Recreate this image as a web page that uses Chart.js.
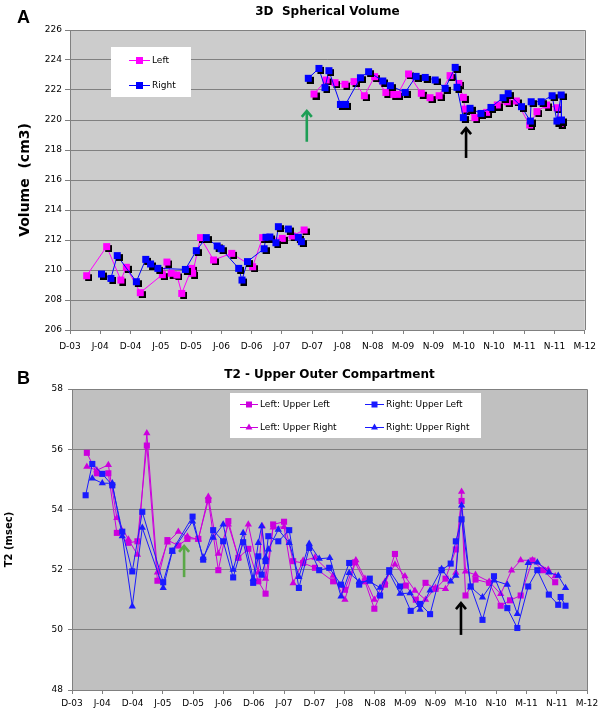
<!DOCTYPE html>
<html><head><meta charset="utf-8">
<script src="https://cdn.jsdelivr.net/npm/chart.js@4.4.0/dist/chart.umd.min.js"></script>
<style>
html,body{margin:0;padding:0;background:#fff;}
#wrap{position:relative;width:603px;height:711px;overflow:hidden;background:#fff;}
canvas{position:absolute;left:0;}
</style></head><body>
<div id="wrap">
<canvas id="cA" width="603" height="355" style="top:0px"></canvas>
<canvas id="cB" width="603" height="356" style="top:355px"></canvas>
</div>
<script>
// ---------- shared x-axis tick labels (one unit = one tick interval) ----------
const tickLabels = ['D-03','J-04','D-04','J-05','D-05','J-06','D-06','J-07','D-07','J-08','N-08','M-09','N-09','M-10','N-10','M-11','N-11','M-12'];

// ---------- Chart A: 3D Spherical Volume (cm3) ----------
const volYTicks = {min: 206, max: 226, step: 2};
const leftX_A = [0.55,1.21,1.68,1.86,2.32,3.05,3.20,3.34,3.53,3.69,4.02,4.05,4.31,4.74,5.34,6.03,6.36,7.01,7.34,7.73,7.90,
  8.06,8.46,8.75,9.08,9.38,9.72,10.06,10.43,10.69,10.82,11.18,11.60,11.89,12.19,12.55,12.84,12.99,13.04,13.37,13.76,14.11,14.44,14.74,15.18,15.42,15.74,16.08,16.19];
const leftY_A = [209.62,211.56,209.33,210.18,208.49,209.69,210.53,209.78,209.67,208.44,210.11,209.78,212.16,210.67,211.11,210.22,212.16,212.11,212.27,212.67,null,
  221.73,222.67,222.49,222.38,222.56,221.62,222.89,221.84,221.71,221.71,223.07,221.78,221.49,221.62,222.96,222.44,221.51,220.73,220.16,220.51,221.0,221.22,221.27,219.67,220.56,221.0,220.82,219.78];
const rightX_A = [1.04,1.35,1.56,2.19,2.50,2.66,2.90,3.81,4.17,4.50,4.86,4.99,5.57,5.68,5.86,6.41,6.47,6.60,6.80,6.88,7.21,7.54,7.64,7.75,
  7.87,8.22,8.42,8.55,8.93,9.10,9.59,9.86,10.33,10.58,11.07,11.43,11.73,12.06,12.39,12.72,12.78,12.99,13.21,13.57,13.90,14.30,14.47,14.91,15.20,15.23,15.56,15.92,16.08,16.22,16.23];
const rightY_A = [209.73,209.44,210.96,209.22,210.71,210.4,210.11,210.04,211.29,212.16,211.6,211.42,210.11,209.33,210.56,211.42,212.18,212.2,211.82,212.89,212.73,212.18,211.89,null,
  222.78,223.44,222.16,223.29,221.04,221.04,222.82,223.22,222.6,222.29,221.84,222.91,222.84,222.67,222.11,223.51,222.18,220.16,220.78,220.44,220.84,221.49,221.76,220.89,219.93,221.22,221.22,221.62,219.93,221.67,220.0];
// arrows: [x, yFrom, yTo]
const arrowsA = [[7.82, 218.55, 220.67, '#1d9e55'], [13.08, 217.47, 219.53, '#000000']];

// ---------- Chart B: T2 - Upper Outer Compartment (msec) ----------
const t2YTicks = {min: 48, max: 58, step: 2};
const lulX = [0.49,0.82,1.20,1.48,1.86,2.16,2.47,2.82,3.15,3.51,3.81,4.17,4.50,4.83,5.16,5.49,5.82,6.15,6.39,6.64,7.00,7.30,7.63,8.02,8.62,9.01,9.34,9.67,9.98,10.33,10.66,11.02,11.35,11.67,12.00,12.33,12.67,12.86,12.99,13.32,13.77,14.15,14.46,14.81,15.20,15.55,15.95];
const lulY = [55.88,55.2,55.2,53.22,52.89,52.94,56.12,51.63,52.98,52.8,53.02,53.02,54.31,51.98,53.61,52.39,52.69,51.61,51.2,53.5,53.59,52.28,52.22,52.06,51.61,51.33,52.24,51.61,50.7,51.5,52.52,51.47,51.0,51.56,51.36,51.7,52.67,54.28,51.14,51.67,51.56,50.8,50.98,51.14,52.3,51.98,51.58];
const lurX = [0.49,0.82,1.20,1.48,1.86,2.16,2.47,2.82,3.15,3.51,3.81,4.17,4.50,4.83,5.16,5.49,5.82,6.15,6.28,6.39,6.64,7.00,7.30,7.63,8.02,8.62,9.01,9.37,9.67,9.98,10.33,10.66,10.99,11.32,11.67,12.00,12.33,12.67,12.86,12.99,13.32,13.77,14.15,14.51,14.81,15.20,15.72,15.95];
const lurY = [55.42,55.3,55.48,53.72,53.0,52.5,56.53,51.91,52.9,53.26,53.1,53.0,54.42,52.53,53.5,52.4,53.5,51.91,53.44,51.7,53.4,53.42,51.55,52.3,52.4,51.8,51.0,52.31,51.7,51.0,51.6,52.17,51.78,51.3,51.0,51.4,51.36,51.9,54.59,51.94,51.83,51.6,51.19,51.97,52.31,52.31,52.0,51.78];
const rulX = [0.45,0.67,1.00,1.33,1.66,1.99,2.32,3.01,3.31,3.98,4.33,4.66,4.99,5.32,5.65,5.98,6.15,6.26,6.39,6.48,6.81,7.17,7.49,7.83,8.16,8.49,8.88,9.15,9.48,9.83,10.17,10.47,10.83,11.18,11.49,11.82,12.20,12.50,12.67,12.86,13.16,13.55,13.93,14.37,14.70,15.06,15.36,15.74,16.05,16.13,16.29];
const rulY = [54.47,55.51,55.18,54.8,53.26,51.94,53.92,51.58,52.63,53.76,52.33,53.31,52.94,51.74,52.91,51.56,52.44,51.83,52.28,53.11,52.94,53.31,51.39,52.72,51.98,52.06,51.5,52.22,51.5,51.7,51.14,51.98,51.44,50.63,50.86,50.52,51.98,52.2,52.94,53.67,51.44,50.33,51.78,50.72,50.06,51.44,51.98,51.17,50.83,51.09,50.8];
const rurX = [0.67,1.00,1.33,1.66,1.99,2.32,3.01,3.31,3.98,4.33,4.66,4.99,5.32,5.65,5.98,6.15,6.26,6.39,6.48,6.81,7.17,7.49,7.83,8.16,8.51,8.88,9.15,9.48,9.83,10.17,10.47,10.83,11.16,11.49,11.82,12.20,12.50,12.67,12.86,13.16,13.55,13.93,14.37,14.70,15.06,15.36,15.74,16.05,16.29];
const rurY = [55.03,54.87,54.87,53.11,50.78,53.39,51.39,52.6,53.6,52.4,53.06,53.5,52.0,53.22,51.7,52.89,53.44,52.4,52.67,53.33,52.89,51.76,52.86,52.36,52.39,51.11,51.89,51.6,51.6,51.4,51.9,51.2,51.22,50.67,51.31,52.02,51.61,51.8,54.13,51.42,51.08,51.64,51.5,50.53,52.22,52.24,51.91,51.8,51.39];
const arrowsB = [[3.70, 51.75, 52.82, '#5aa847'], [12.84, 49.83, 50.92, '#000000']];

// ---------- helpers ----------
const pts = (xs, ys) => xs.map((x, i) => ({x: x, y: ys[i]}));
const PINK = '#FF00FF', BLUE = '#0000FF', MAG_B = '#CC00DD', BLUE_B = '#1a1aff';
function shadowSquare(color) {
  const c = document.createElement('canvas'); c.width = 11; c.height = 11;
  const g = c.getContext('2d');
  g.fillStyle = '#000'; g.fillRect(4, 4, 7, 7);
  g.fillStyle = color; g.fillRect(2, 2, 7, 7);
  return c;
}
Chart.defaults.font.family = '"DejaVu Sans", Verdana, sans-serif';
Chart.defaults.font.size = 9;
Chart.defaults.color = '#000';

function drawMarker(ctx, style, x, y, color) {
  ctx.fillStyle = color;
  if (style === 'tri') {
    const r = 4;
    ctx.beginPath(); ctx.moveTo(x, y - r); ctx.lineTo(x + r * 0.866, y + r * 0.5); ctx.lineTo(x - r * 0.866, y + r * 0.5); ctx.closePath(); ctx.fill();
  } else {
    const s = style === 'bigsq' ? 7 : 6;
    ctx.fillRect(x - s / 2, y - s / 2, s, s);
  }
}

const decor = {
  id: 'decor',
  beforeDraw(chart, args, o) {
    const {ctx, chartArea: a} = chart;
    ctx.save(); ctx.fillStyle = o.bg; ctx.fillRect(a.left, a.top, a.right - a.left, a.bottom - a.top); ctx.restore();
  },
  afterDraw(chart, args, o) {
    const {ctx, chartArea: a, scales: {x, y}} = chart;
    ctx.save();
    // plot border (top/right)
    ctx.strokeStyle = '#808080'; ctx.lineWidth = 1;
    ctx.beginPath(); ctx.moveTo(a.left, Math.round(a.top) + 0.5); ctx.lineTo(Math.round(a.right) + 0.5, Math.round(a.top) + 0.5); ctx.lineTo(Math.round(a.right) + 0.5, a.bottom); ctx.stroke();
    // arrows
    o.arrows.forEach(ar => {
      const px = x.getPixelForValue(ar[0]), y0 = y.getPixelForValue(ar[1]), y1 = y.getPixelForValue(ar[2]);
      ctx.strokeStyle = ar[3]; ctx.lineWidth = 2.6; ctx.lineCap = 'butt'; ctx.lineJoin = 'miter';
      ctx.beginPath(); ctx.moveTo(px, y0); ctx.lineTo(px, y1 + 1); ctx.stroke();
      ctx.beginPath(); ctx.moveTo(px - 5, y1 + 7); ctx.lineTo(px, y1 + 1); ctx.lineTo(px + 5, y1 + 7); ctx.stroke();
    });
    // legend
    const L = o.legend;
    ctx.fillStyle = '#fff'; ctx.fillRect(L.box[0], L.box[1], L.box[2], L.box[3]);
    ctx.font = '9px "DejaVu Sans"'; ctx.textBaseline = 'middle'; ctx.textAlign = 'left';
    L.items.forEach(it => {
      ctx.strokeStyle = it.color; ctx.lineWidth = 1;
      ctx.beginPath(); ctx.moveTo(it.x0, it.y + 0.5); ctx.lineTo(it.x1, it.y + 0.5); ctx.stroke();
      drawMarker(ctx, it.m, (it.x0 + it.x1) / 2, it.y + 0.5, it.color);
      ctx.fillStyle = '#000'; ctx.fillText(it.text, it.x1 + 2, it.y + 1);
    });
    // texts
    ctx.fillStyle = '#000';
    ctx.font = 'bold 18px "Liberation Sans", Arial, sans-serif'; ctx.textAlign = 'left'; ctx.textBaseline = 'alphabetic';
    ctx.fillText(o.letter, 17, o.letterY);
    ctx.font = 'bold 12px "DejaVu Sans"'; ctx.textAlign = 'center'; ctx.textBaseline = 'middle';
    ctx.fillText(o.title, (a.left + a.right) / 2, o.titleY);
    ctx.save();
    ctx.translate(o.yTitle.x, (a.top + a.bottom) / 2); ctx.rotate(-Math.PI / 2);
    ctx.font = 'bold ' + o.yTitle.size + 'px "DejaVu Sans"';
    ctx.fillText(o.yTitle.text, 0, 0);
    ctx.restore();
    ctx.restore();
  }
};

function makeChart(id, datasets, yT, dims, decorOpts) {
  return new Chart(document.getElementById(id), {
    type: 'scatter',
    data: {datasets: datasets},
    plugins: [decor],
    options: {
      responsive: false, animation: false, devicePixelRatio: 1,
      layout: {padding: {left: 0, right: dims.right, top: dims.top, bottom: 0}},
      plugins: {legend: {display: false}, tooltip: {enabled: false}, title: {display: false}, decor: decorOpts},
      scales: {
        x: {
          type: 'linear', min: 0, max: tickLabels.length - 1,
          afterFit: s => { s.height = dims.xh; },
          ticks: {stepSize: 1, autoSkip: false, maxRotation: 0, padding: dims.xpad, callback: v => tickLabels[v] || '', font: {size: 9}},
          grid: {drawOnChartArea: false, drawTicks: true, tickLength: 4, color: '#808080'},
          border: {display: true, color: '#808080'}
        },
        y: {
          min: yT.min, max: yT.max,
          afterFit: s => { s.width = dims.yw; },
          ticks: {stepSize: yT.step, padding: dims.ypad, font: {size: 9}},
          grid: {color: '#808080', drawTicks: true, tickLength: dims.ytl},
          border: {display: true, color: '#808080'}
        }
      }
    }
  });
}

// Chart A
makeChart('cA', [
  {label: 'Right', data: pts(rightX_A, rightY_A), showLine: true, spanGaps: false, borderColor: BLUE, borderWidth: 1, pointStyle: shadowSquare(BLUE), pointRadius: 4, order: 0},
  {label: 'Left', data: pts(leftX_A, leftY_A), showLine: true, spanGaps: false, borderColor: PINK, borderWidth: 1, pointStyle: shadowSquare(PINK), pointRadius: 4, order: 1}
], volYTicks, {right: 16, top: 30, xh: 25, yw: 70, xpad: 7, ypad: 3, ytl: 5}, {
  bg: '#cccccc', arrows: arrowsA, letter: 'A', letterY: 23, title: '3D  Spherical Volume', titleY: 12,
  yTitle: {text: 'Volume  (cm3)', x: 25, size: 14},
  legend: {box: [111, 47, 80, 50], items: [
    {text: 'Left', color: PINK, m: 'bigsq', x0: 129, x1: 150, y: 60},
    {text: 'Right', color: BLUE, m: 'bigsq', x0: 129, x1: 150, y: 85}
  ]}
});

// Chart B
makeChart('cB', [
  {label: 'Right: Upper Left', data: pts(rulX, rulY), showLine: true, borderColor: BLUE_B, backgroundColor: BLUE_B, borderWidth: 1, pointStyle: 'rect', pointRadius: 4.3, pointBorderWidth: 0, order: 0},
  {label: 'Right: Upper Right', data: pts(rurX, rurY), showLine: true, borderColor: BLUE_B, backgroundColor: BLUE_B, borderWidth: 1, pointStyle: 'triangle', pointRadius: 4.2, pointBorderWidth: 0, order: 1},
  {label: 'Left: Upper Left', data: pts(lulX, lulY), showLine: true, borderColor: MAG_B, backgroundColor: MAG_B, borderWidth: 1, pointStyle: 'rect', pointRadius: 4.3, pointBorderWidth: 0, order: 2},
  {label: 'Left: Upper Right', data: pts(lurX, lurY), showLine: true, borderColor: MAG_B, backgroundColor: MAG_B, borderWidth: 1, pointStyle: 'triangle', pointRadius: 4.2, pointBorderWidth: 0, order: 3}
], t2YTicks, {right: 16, top: 34, xh: 21, yw: 72, xpad: 4, ypad: 5, ytl: 4}, {
  bg: '#c0c0c0', arrows: arrowsB, letter: 'B', letterY: 29, title: 'T2 - Upper Outer Compartment', titleY: 20,
  yTitle: {text: 'T2 (msec)', x: 9, size: 10},
  legend: {box: [230, 38, 251, 45], items: [
    {text: 'Left: Upper Left', color: MAG_B, m: 'sq', x0: 240, x1: 258, y: 49},
    {text: 'Left: Upper Right', color: MAG_B, m: 'tri', x0: 240, x1: 258, y: 72},
    {text: 'Right: Upper Left', color: BLUE_B, m: 'sq', x0: 365, x1: 384, y: 49},
    {text: 'Right: Upper Right', color: BLUE_B, m: 'tri', x0: 365, x1: 384, y: 72}
  ]}
});
</script>
</body></html>
